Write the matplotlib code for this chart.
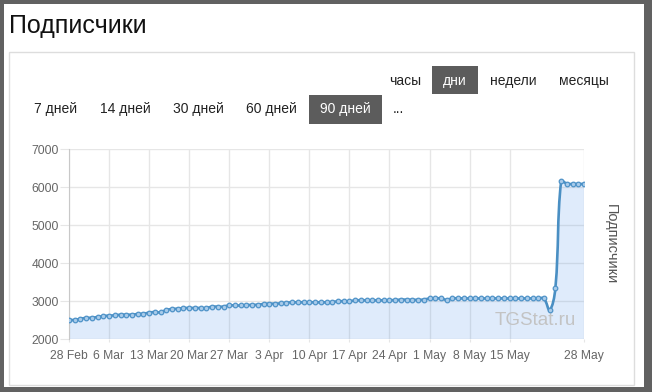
import numpy as np
import pandas as pd
import matplotlib
matplotlib.use('Agg')
import matplotlib.pyplot as plt
import matplotlib.dates as mdates
from matplotlib.path import Path
from matplotlib.patches import PathPatch, Rectangle

plt.rcParams['font.family'] = ['Liberation Sans', 'DejaVu Sans']

# Данные: подписчики по дням, 28 Feb - 28 May 2024
days = pd.date_range('2024-02-28', '2024-05-28', freq='D')
subscribers = [
    2515, 2508, 2543, 2561, 2569, 2587, 2614, 2622, 2631, 2648,
    2648, 2650, 2666, 2675, 2701, 2718, 2710, 2771, 2797, 2806,
    2824, 2824, 2826, 2824, 2826, 2859, 2859, 2861, 2894, 2890,
    2892, 2903, 2905, 2912, 2929, 2938, 2938, 2947, 2964, 2973,
    2973, 2975, 2973, 2975, 2973, 2975, 2982, 3000, 3002, 3000,
    3026, 3026, 3028, 3026, 3028, 3026, 3030, 3032, 3045, 3043,
    3040, 3040, 3045, 3075, 3078, 3075, 3040, 3075, 3078, 3076,
    3075, 3077, 3075, 3076, 3075, 3078, 3076, 3075, 3076, 3075,
    3077, 3075, 3076, 3075, 2771, 3350, 6160, 6095, 6088, 6088,
    6088,
]
tick_dates = ['2024-02-28', '2024-03-06', '2024-03-13', '2024-03-20', '2024-03-27',
              '2024-04-03', '2024-04-10', '2024-04-17', '2024-04-24', '2024-05-01',
              '2024-05-08', '2024-05-15', '2024-05-28']
y_ticks = [2000, 3000, 4000, 5000, 6000, 7000]

W, H = 652, 392


def fx(px):
    return px / W


def fy(py):
    return 1 - py / H


def spline(x, y, sx, sy, t=0.4):
    # кривая Безье как в Chart.js (tension 0.4), считается в пикселях
    px = (x - x[0]) * sx
    py = (y - y_ticks[0]) * sy
    n = len(px)
    verts = [(x[0], y[0])]
    cp_prev, cp_next = [], []
    for i in range(n):
        a, b = max(i - 1, 0), min(i + 1, n - 1)
        d01 = np.hypot(px[i] - px[a], py[i] - py[a])
        d12 = np.hypot(px[b] - px[i], py[b] - py[i])
        tot = d01 + d12
        fa = t * (d01 / tot if tot else 0)
        fb = t * (d12 / tot if tot else 0)
        dx, dy = px[b] - px[a], py[b] - py[a]
        cp_prev.append((px[i] - fa * dx, py[i] - fa * dy))
        cp_next.append((px[i] + fb * dx, py[i] + fb * dy))

    def back(p):
        yy = min(max(p[1] / sy + y_ticks[0], y_ticks[0]), y_ticks[-1])
        return (p[0] / sx + x[0], yy)

    for i in range(n - 1):
        verts += [back(cp_next[i]), back(cp_prev[i + 1]), (x[i + 1], y[i + 1])]
    codes = [Path.MOVETO] + [Path.CURVE4] * (len(verts) - 1)
    return verts, codes


fig = plt.figure(figsize=(W / 100, H / 100), dpi=100)
fig.patch.set_facecolor('#616161')
fig.add_artist(Rectangle((fx(4), fy(387)), fx(640), 383 / H, transform=fig.transFigure,
                         facecolor='white', edgecolor='none', zorder=-5))
fig.add_artist(Rectangle((fx(8.5), fy(385)), fx(625), 333 / H, transform=fig.transFigure,
                         facecolor='none', edgecolor='#dddddd', lw=1, zorder=-4))

fig.text(fx(9), fy(33), 'Подписчики', fontsize=18, color='#111111', va='baseline')

# кнопки
fig.add_artist(Rectangle((fx(432), fy(94)), fx(46), 28 / H, transform=fig.transFigure,
                         facecolor='#5c5c5c', edgecolor='none'))
fig.add_artist(Rectangle((fx(309), fy(124)), fx(73), 29 / H, transform=fig.transFigure,
                         facecolor='#5c5c5c', edgecolor='none'))
row1 = [('часы', 405), ('дни', 455), ('недели', 513), ('месяцы', 583.5)]
for s, cx in row1:
    fig.text(fx(cx), fy(85), s, fontsize=10, ha='center', va='baseline',
             color='white' if s == 'дни' else '#222222')
row2 = [('7 дней', 56), ('14 дней', 125), ('30 дней', 198), ('60 дней', 271.5),
        ('90 дней', 345.5), ('...', 398)]
for s, cx in row2:
    fig.text(fx(cx), fy(113), s, fontsize=10, ha='center', va='baseline',
             color='white' if s == '90 дней' else '#222222')

ax = fig.add_axes([fx(69), fy(339.3), (584 - 69) / W, (339.3 - 149.3) / H])
x = mdates.date2num(days)
y = np.array(subscribers, dtype=float)
ax.set_xlim(x[0], x[-1])
ax.set_ylim(y_ticks[0], y_ticks[-1])

sx = (584 - 69) / (x[-1] - x[0])
sy = 190 / (y_ticks[-1] - y_ticks[0])
verts, codes = spline(x, y, sx, sy)

fill_verts = verts + [(x[-1], y_ticks[0]), (x[0], y_ticks[0]), verts[0]]
fill_codes = codes + [Path.LINETO, Path.LINETO, Path.CLOSEPOLY]
ax.add_patch(PathPatch(Path(fill_verts, fill_codes), facecolor='#5f9beb', alpha=0.2,
                       edgecolor='none', zorder=1))
ax.add_patch(PathPatch(Path(verts, codes), facecolor='none', edgecolor='#4a8fc3',
                       lw=1.9, zorder=3, capstyle='round', joinstyle='round'))
ax.plot(x, y, 'o', ms=3.3, mfc='#a9cbea', mec='#4f93c8', mew=0.9, zorder=4)

ax.text(0.905, 0.1, 'TGStat.ru', transform=ax.transAxes, fontsize=13.5, color='#c3c3c3',
        ha='center', va='center', zorder=2)

ax.set_xticks(mdates.date2num(pd.to_datetime(tick_dates)))
ax.set_xticklabels([f'{d.day} {d.strftime("%b")}' for d in pd.to_datetime(tick_dates)])
ax.set_yticks(y_ticks)
ax.set_yticklabels([str(v) for v in y_ticks])
ax.grid(True, color='#e6e6e6', lw=1, zorder=0)
ax.set_axisbelow(True)
for side in ['top', 'right', 'bottom']:
    ax.spines[side].set_visible(False)
ax.spines['left'].set_color('#c8c8c8')
ax.tick_params(axis='y', length=6.5, width=0.8, color='#e6e6e6', pad=1,
               labelsize=8.7, labelcolor='#666666')
ax.tick_params(axis='x', length=2.5, width=0.8, color='#e6e6e6', pad=5,
               labelsize=8.7, labelcolor='#666666')

fig.text(fx(611), fy(244), 'Подписчики', rotation=-90, fontsize=10.5, color='#555555',
         ha='center', va='center')

fig.savefig('out.png', dpi=100)
